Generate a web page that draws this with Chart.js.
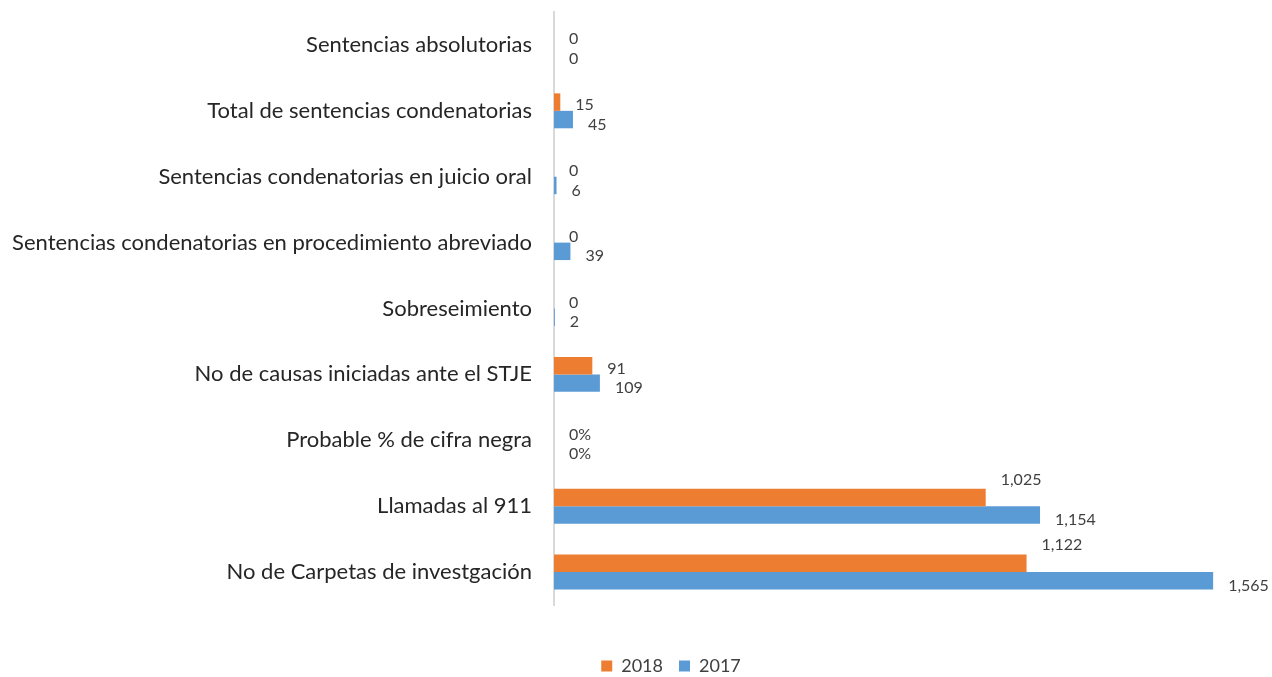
<!DOCTYPE html>
<html>
<head>
<meta charset="utf-8">
<script src="https://cdn.jsdelivr.net/npm/chart.js@4"></script>
<style>
    html, body { margin: 0; padding: 0; background: #fff; }
    #wrap { width: 1272px; height: 677px; }
</style>
</head>
<body>
<div id="wrap"><canvas id="myChart"></canvas></div>
<script>
const categories = [
    'Sentencias absolutorias',
    'Total de sentencias condenatorias',
    'Sentencias condenatorias en juicio oral',
    'Sentencias condenatorias en procedimiento abreviado',
    'Sobreseimiento',
    'No de causas iniciadas ante el STJE',
    'Probable % de cifra negra',
    'Llamadas al 911',
    'No de Carpetas de investgación'
];
const values2018 = [0, 15, 0, 0, 0, 91, 0, 1025, 1122];
const values2017 = [0, 45, 6, 39, 2, 109, 0, 1154, 1565];
const percentRow = 'Probable % de cifra negra';

const FONT = 'Lato, "Open Sans", sans-serif';

const fmt = (v, i) => {
    if (categories[i] === percentRow) return v + '%';
    return v.toLocaleString('en-US');
};

// data labels next to each bar end, roughly where the original puts them
const barLabels = {
    id: 'barLabels',
    afterDatasetsDraw(chart) {
        const ctx = chart.ctx;
        ctx.save();
        ctx.font = '16px ' + FONT;
        ctx.fillStyle = '#404040';
        ctx.textBaseline = 'middle';
        ctx.textAlign = 'left';
        chart.data.datasets.forEach((ds, di) => {
            const meta = chart.getDatasetMeta(di);
            meta.data.forEach((bar, i) => {
                let dy = di === 0 ? 3 : 5;
                if (di === 0 && ds.data[i] > 500) dy = -18;
                ctx.fillText(fmt(ds.data[i], i), bar.x + 15, bar.y + dy);
            });
        });
        ctx.restore();
    }
};

// the legend sits a bit right of centre and lower in the original
const legendShift = {
    id: 'legendShift',
    afterLayout(chart) {
        const lg = chart.legend;
        if (lg) {
            lg.left += 36;
            lg.right += 36;
            lg.top += 8;
            lg.bottom += 8;
        }
    }
};

new Chart(document.getElementById('myChart'), {
    type: 'bar',
    data: {
        labels: categories,
        datasets: [{
            label: '2018',
            data: values2018,
            backgroundColor: '#ED7D31',
            barPercentage: 1,
            categoryPercentage: 0.53
        }, {
            label: '2017',
            data: values2017,
            backgroundColor: '#5B9BD5',
            barPercentage: 1,
            categoryPercentage: 0.53
        }]
    },
    options: {
        indexAxis: 'y',
        responsive: true,
        maintainAspectRatio: false,
        animation: false,
        layout: {
            padding: { top: 12, right: 2, bottom: 0, left: 0 }
        },
        plugins: {
            legend: {
                position: 'bottom',
                labels: {
                    font: { family: FONT, size: 18 },
                    color: '#404040',
                    boxWidth: 11,
                    boxHeight: 11,
                    padding: 16
                }
            },
            tooltip: { enabled: false }
        },
        scales: {
            x: {
                min: 0,
                max: 1700,
                grid: { display: false },
                border: { display: false },
                ticks: { display: false },
                afterFit(scale) {
                    scale.height = 28;
                }
            },
            y: {
                grid: { display: false, drawTicks: false },
                border: { color: '#d9d9d9', width: 2 },
                ticks: {
                    font: { family: FONT, size: 22 },
                    color: '#262626',
                    padding: 22
                },
                afterFit(scale) {
                    scale.width = 554;
                    scale.paddingTop = 0;
                    scale.paddingBottom = 0;
                }
            }
        }
    },
    plugins: [barLabels, legendShift]
});
</script>
</body>
</html>
